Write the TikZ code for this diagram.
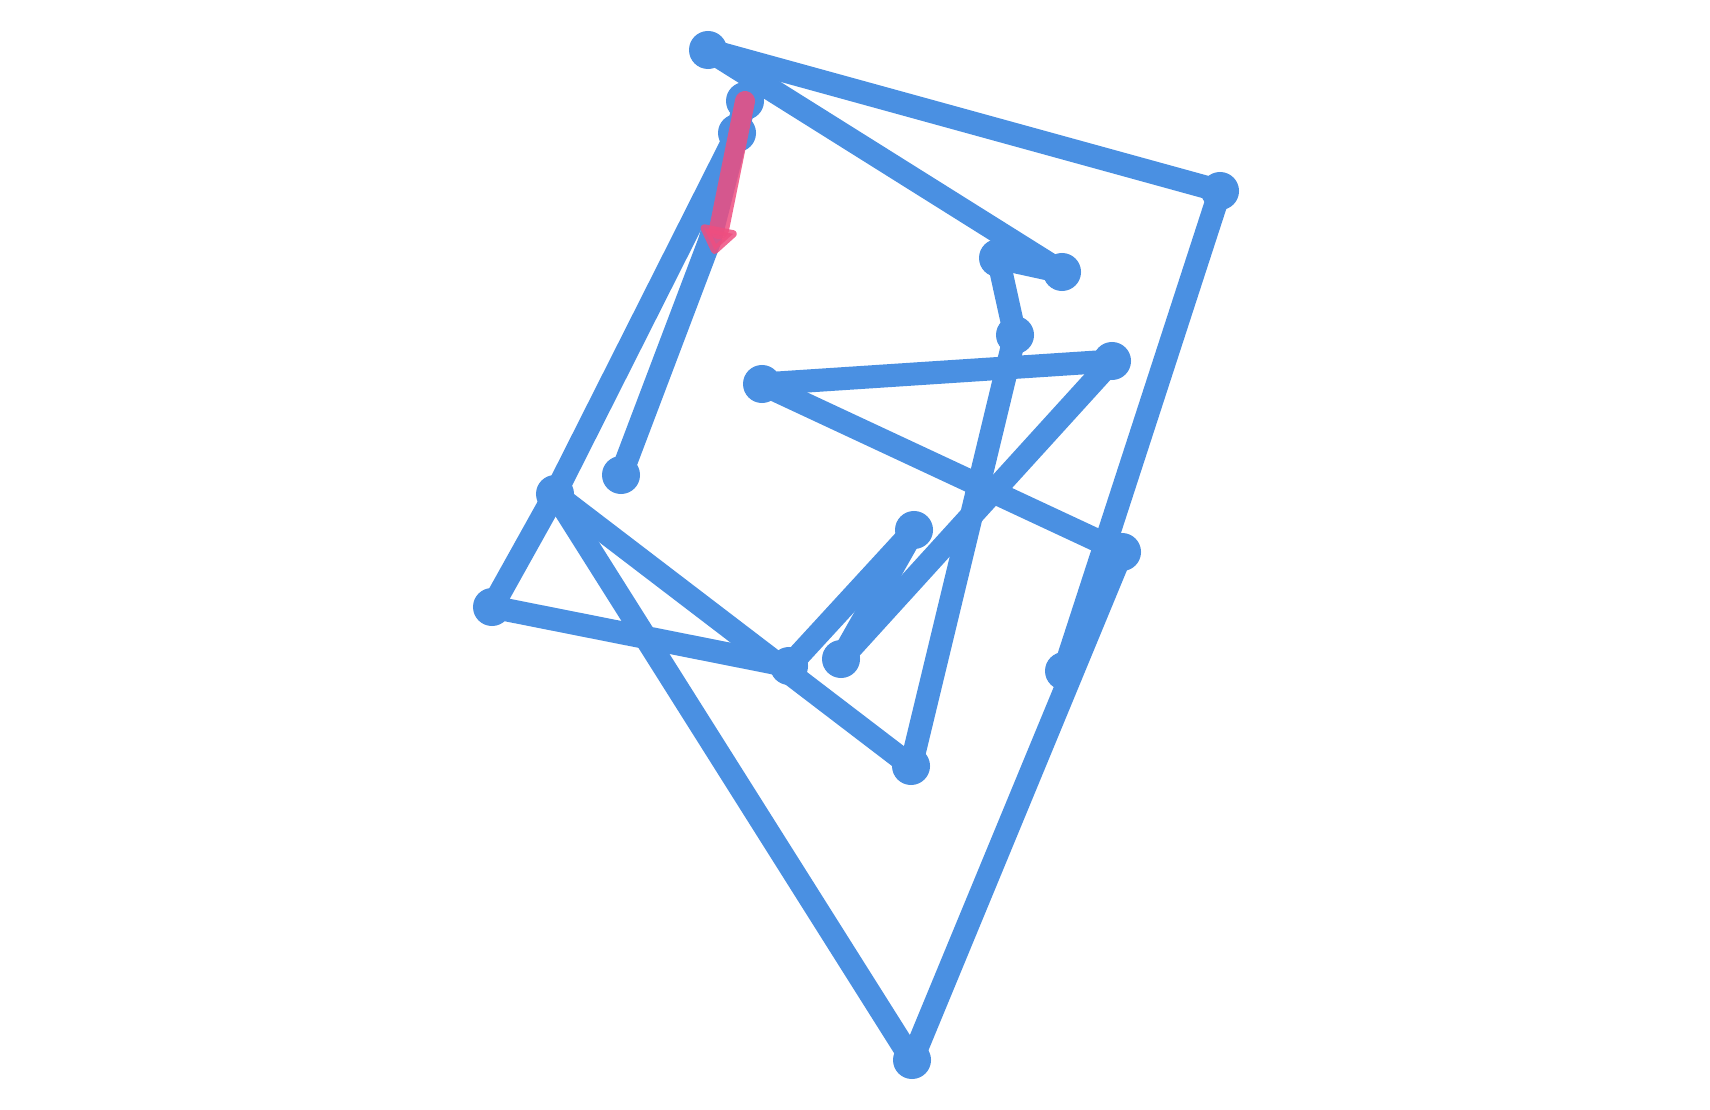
\documentclass[tikz,border=0pt]{standalone}
\usepackage{xcolor}
\usepackage{tikz}
\usetikzlibrary{arrows.meta}
\definecolor{tourblue}{HTML}{4A90E2}
\definecolor{tourpink}{HTML}{EE4E80}

\begin{document}
\begin{tikzpicture}[
  x=0.01cm, y=-0.01cm,
  dot/.style={
    circle, fill=tourblue, draw=none, inner sep=0pt, minimum size=0.38cm
  },
  edge/.style={line width=0.23cm, color=tourblue, line cap=round, line join=round},
  active/.style={
    line width=0.2cm, color=tourpink, opacity=0.85, line cap=round,
    -{Triangle[length=0.30cm, width=0.42cm, round]}
  },
]
\useasboundingbox (0,0) rectangle (1710,1110);

% Points
\node[dot] (pa) at (708,50) {};
\node[dot] (pb) at (1220,191) {};
\node[dot] (pc) at (745,101) {};
\node[dot] (pd) at (737,133) {};
\node[dot] (pe) at (1062,272) {};
\node[dot] (pf) at (998,258) {};
\node[dot] (pg) at (1015,335) {};
\node[dot] (ph) at (1112,361) {};
\node[dot] (pi) at (762,384) {};
\node[dot] (pj) at (1122,552) {};
\node[dot] (pk) at (1064,671) {};
\node[dot] (pl) at (912,1060) {};
\node[dot] (pm) at (555,494) {};
\node[dot] (pn) at (911,766) {};
\node[dot] (po) at (789,666) {};
\node[dot] (pp) at (492,607) {};
\node[dot] (pq) at (621,475) {};
\node[dot] (pr) at (914,530) {};
\node[dot] (ps) at (841,659) {};
\coordinate (pt) at (710,240);
\coordinate (tip) at (714,254);

% Edges
\draw[edge] (pa.center) -- (pb.center);
\draw[edge] (pa.center) -- (pe.center);
\draw[edge] (pb.center) -- (pk.center);
\draw[edge] (pe.center) -- (pf.center);
\draw[edge] (pf.center) -- (pg.center);
\draw[edge] (pg.center) -- (pn.center);
\draw[edge] (ph.center) -- (pi.center);
\draw[edge] (ph.center) -- (ps.center);
\draw[edge] (pi.center) -- (pj.center);
\draw[edge] (pj.center) -- (pl.center);
\draw[edge] (pl.center) -- (pm.center);
\draw[edge] (pm.center) -- (pn.center);
\draw[edge] (pd.center) -- (pm.center);
\draw[edge] (pm.center) -- (pp.center);
\draw[edge] (pp.center) -- (po.center);
\draw[edge] (po.center) -- (pr.center);
\draw[edge] (pr.center) -- (ps.center);
\draw[edge] (pc.center) -- (pd.center);
\draw[edge] (pd.center) -- (pt);
\draw[edge] (pq.center) -- (pt);

% Current step
\draw[active] (pc.center) -- (tip);

\end{tikzpicture}
\end{document}
